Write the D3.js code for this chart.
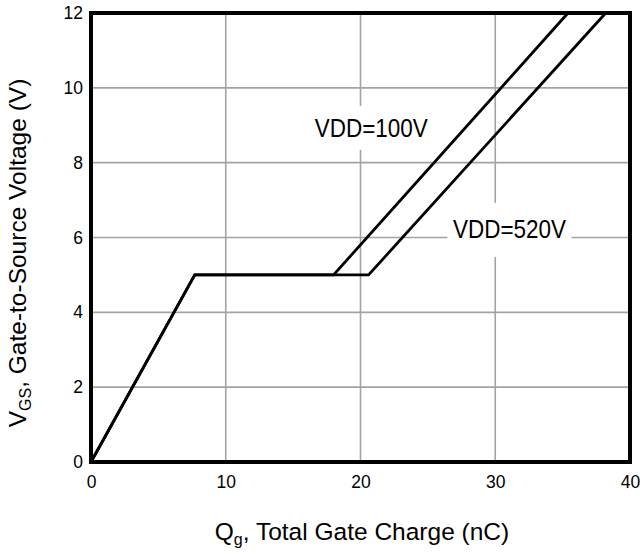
<!DOCTYPE html>
<html><head><meta charset="utf-8">
<script src="https://cdn.jsdelivr.net/npm/d3@7"></script>
<style>body{margin:0;background:#fff}svg{display:block}</style>
</head><body>
<svg id="c" width="640" height="554"></svg>
<script>
const xTicks = [0, 10, 20, 30, 40];
const yTicks = [0, 2, 4, 6, 8, 10, 12];
const seriesNames = ["VDD=100V", "VDD=520V"];
const qg100 = [0, 7.7, 18.0, 35.4];
const vgs100 = [0, 5, 5, 12];
const qg520 = [0, 7.7, 20.6, 38.2];
const vgs520 = [0, 5, 5, 12];
const labelPos = [[20.8, 8.93], [31.06, 6.23]];

const svg = d3.select("#c");
const FONT = "'Liberation Sans', Arial, sans-serif";
const x = d3.scaleLinear().domain([0, 40]).range([91, 630]);
const y = d3.scaleLinear().domain([0, 12]).range([462, 13]);

// grid
const g = svg.append("g");
g.selectAll("line.vx").data(xTicks.slice(1, -1)).join("line")
  .attr("x1", d => x(d)).attr("x2", d => x(d)).attr("y1", y(12)).attr("y2", y(0))
  .attr("stroke", "#a3a3a3").attr("stroke-width", 1.6);
g.selectAll("line.hy").data(yTicks.slice(1, -1)).join("line")
  .attr("y1", d => y(d)).attr("y2", d => y(d)).attr("x1", x(0)).attr("x2", x(40))
  .attr("stroke", "#a3a3a3").attr("stroke-width", 1.6);

// series
const line = d3.line().x(d => x(d[0])).y(d => y(d[1]));
const data = [d3.zip(qg100, vgs100), d3.zip(qg520, vgs520)];
svg.selectAll("path.s").data(data).join("path")
  .attr("d", line).attr("fill", "none").attr("stroke", "#000")
  .attr("stroke-width", 2.8).attr("stroke-linejoin", "miter");

// labels with white boxes
const lbl = svg.selectAll("g.lbl").data(seriesNames).join("g")
  .attr("transform", (d, i) => `translate(${x(labelPos[i][0])},${y(labelPos[i][1])})`);
lbl.append("rect").attr("x", (d, i) => i ? -62 : -67).attr("y", (d, i) => i ? -26 : -22)
  .attr("width", (d, i) => i ? 124 : 134).attr("height", (d, i) => i ? 54 : 44).attr("fill", "#fff");
lbl.append("text").text(d => d).attr("text-anchor", "middle").attr("dy", "0.36em")
  .attr("font-family", FONT).attr("font-size", 26)
  .attr("textLength", 113).attr("lengthAdjust", "spacingAndGlyphs");

// frame
svg.append("rect").attr("x", x(0)).attr("y", y(12)).attr("width", x(40) - x(0)).attr("height", y(0) - y(12))
  .attr("fill", "none").attr("stroke", "#000").attr("stroke-width", 4);

// axes
const ax = svg.append("g").attr("transform", `translate(0,${y(0)})`)
  .call(d3.axisBottom(x).tickValues(xTicks).tickSize(0).tickPadding(14));
const ay = svg.append("g").attr("transform", `translate(${x(0)},0)`)
  .call(d3.axisLeft(y).tickValues(yTicks).tickSize(0).tickPadding(8));
[ax, ay].forEach(a => {
  a.select(".domain").remove();
  a.selectAll("text").attr("font-family", FONT).attr("font-size", 17.5).attr("fill", "#000");
});

// axis titles
const xt = svg.append("text").attr("x", 362).attr("y", 540).attr("text-anchor", "middle")
  .attr("font-family", FONT).attr("font-size", 24.5).attr("fill", "#000");
xt.append("tspan").text("Q");
xt.append("tspan").text("g").attr("font-size", 16).attr("dy", 5);
xt.append("tspan").text(", Total Gate Charge (nC)").attr("dy", -5);

const yt = svg.append("text").attr("transform", "translate(26,253) rotate(-90)").attr("text-anchor", "middle")
  .attr("font-family", FONT).attr("font-size", 24.5).attr("fill", "#000");
yt.append("tspan").text("V");
yt.append("tspan").text("GS").attr("font-size", 16).attr("dy", 5);
yt.append("tspan").text(",  Gate-to-Source Voltage (V)").attr("dy", -5);
</script>
</body></html>
